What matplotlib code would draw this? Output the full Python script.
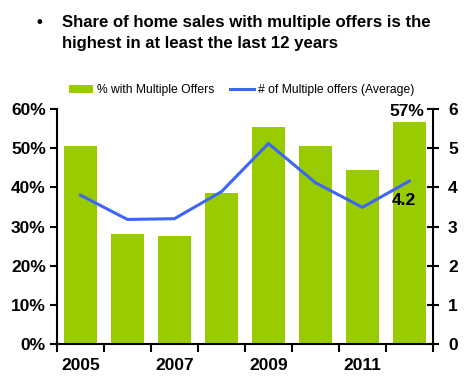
import numpy as np
import matplotlib.pyplot as plt
from matplotlib.ticker import FixedLocator

plt.rcParams['font.family'] = ['Liberation Sans', 'DejaVu Sans']

# 数据
years = [2005, 2006, 2007, 2008, 2009, 2010, 2011, 2012]
pct_multiple = [50.5, 28.1, 27.6, 38.5, 55.4, 50.5, 44.4, 56.7]
avg_offers = [3.80, 3.18, 3.20, 3.89, 5.12, 4.12, 3.49, 4.16]
year_labels = ['2005', '', '2007', '', '2009', '', '2011', '']

green = '#99CC00'
blue = '#3D67F2'

fig = plt.figure(figsize=(4.71, 3.88), dpi=100)
ax = fig.add_axes([0.121, 0.1134, 0.798, 0.6056])
x = np.arange(len(years))

bars = ax.bar(x, pct_multiple, width=0.7, color=green, label='% with Multiple Offers', zorder=2)
ax.set_xlim(-0.5, len(years) - 0.5)
ax.set_ylim(0, 60)
ax.set_yticks(np.arange(0, 61, 10))
ax.set_yticklabels([f'{v}%' for v in range(0, 61, 10)], fontsize=12.5, fontweight='bold')
ax.set_xticks(x)
ax.set_xticklabels(year_labels, fontsize=12.5, fontweight='bold')
ax.tick_params(axis='x', length=0, pad=10)
ax.xaxis.set_minor_locator(FixedLocator(np.arange(-0.5, len(years), 1)))
ax.tick_params(axis='x', which='minor', length=6, width=1.5, direction='out')
ax.tick_params(axis='y', length=5, width=1.5, direction='out', pad=3)
for s in ['top', 'right']:
    ax.spines[s].set_visible(False)
ax.spines['left'].set_linewidth(1.5)
ax.spines['bottom'].set_linewidth(1.5)

ax2 = ax.twinx()
line, = ax2.plot(x, avg_offers, color=blue, linewidth=2.2, label='# of Multiple offers (Average)', zorder=3)
ax2.set_ylim(0, 6)
ax2.set_yticks(range(0, 7))
ax2.set_yticklabels([str(v) for v in range(0, 7)], fontsize=12.5, fontweight='bold')
ax2.tick_params(axis='y', length=8, width=1.5, direction='inout', pad=7)
for s in ['top', 'left', 'bottom']:
    ax2.spines[s].set_visible(False)
ax2.spines['right'].set_linewidth(1.5)

# 标注
ax.text(x[-1] - 0.05, pct_multiple[-1] + 0.7, f'{round(pct_multiple[-1])}%', ha='center', va='bottom',
        fontsize=12.5, fontweight='bold')
ax2.text(x[-1] - 0.12, avg_offers[-1] - 0.3, f'{avg_offers[-1]:.1f}', ha='center', va='top',
         fontsize=12.5, fontweight='bold')

fig.legend(handles=[bars, line], loc='center', bbox_to_anchor=(0.513, 0.768), ncol=2,
           frameon=False, fontsize=8.7, handlelength=2.0, handletextpad=0.3, columnspacing=1.3)

# 标题
fig.text(0.078, 0.943, '•', fontsize=12, fontweight='bold', va='center')
fig.text(0.131, 0.943, 'Share of home sales with multiple offers is the', fontsize=12.1,
         fontweight='bold', va='center')
fig.text(0.131, 0.889, 'highest in at least the last 12 years', fontsize=12.1,
         fontweight='bold', va='center')

fig.savefig('out.png', dpi=100)
